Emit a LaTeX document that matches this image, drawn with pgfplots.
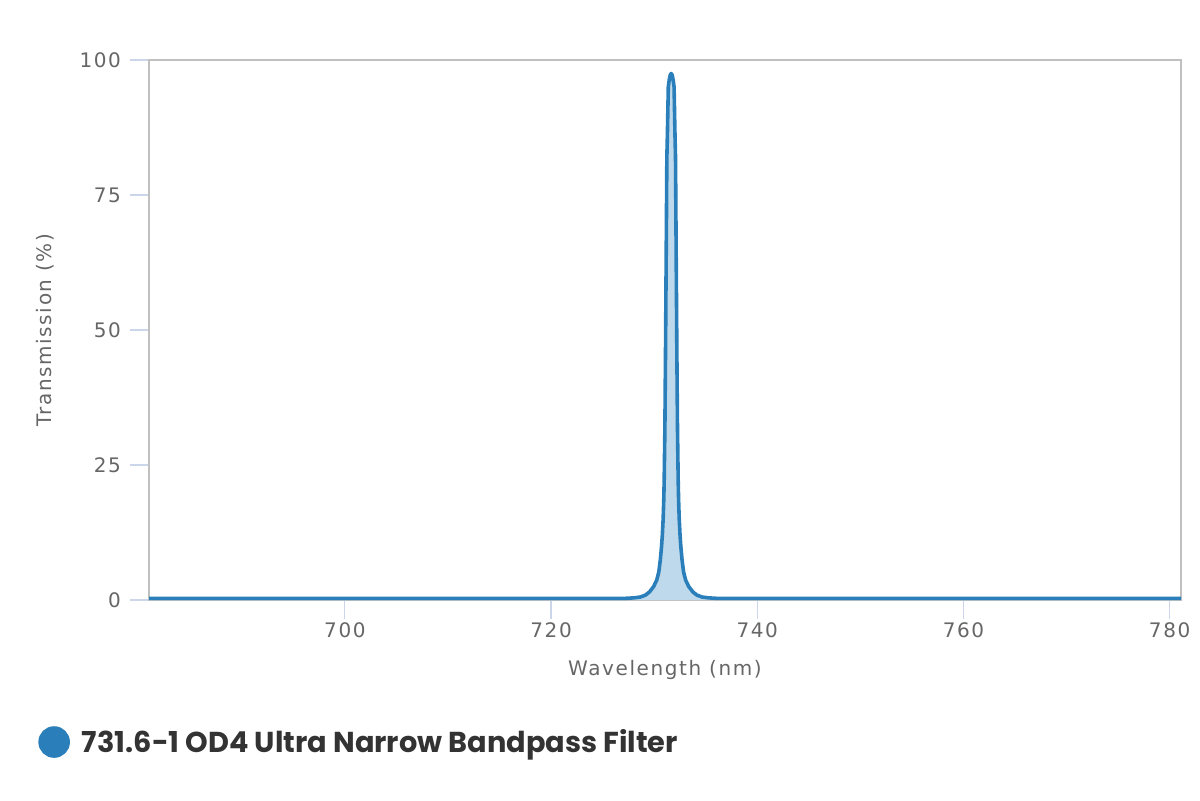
\documentclass[border=0pt]{standalone}
\usepackage{pgfplots}
\pgfplotsset{compat=1.18}
\usepackage{fontspec}
\setmainfont{DejaVu Sans}[LetterSpace=8]
\newfontfamily\legfont{Poppins}
\definecolor{hcblue}{HTML}{2A7FBA}
\definecolor{hcfill}{HTML}{BDD9EB}
\definecolor{tickc}{HTML}{CCD6EB}
\definecolor{boxc}{HTML}{C0C0C0}
\definecolor{labc}{HTML}{666666}
\definecolor{legc}{HTML}{333333}
\pgfplotstableread{
x y
681 0.3
700 0.3
720 0.3
727.15 0.3
728.05 0.4
728.65 0.55
729.15 0.9
729.55 1.5
729.95 2.5
730.25 3.7
730.45 5.2
730.6 7.5
730.71 9.8
730.79 12
730.87 15
730.93 18.5
730.97 22
731.04 32
731.1 46
731.17 65
731.23 82
731.28 86
731.37 95
731.45 96.2
731.55 97.2
731.65 97.5
731.75 97.2
731.85 96.2
731.93 95
732.02 86
732.07 82
732.13 65
732.2 46
732.26 32
732.33 22
732.37 18.5
732.43 15
732.51 12
732.59 9.8
732.7 7.5
732.85 5.2
733.05 3.7
733.35 2.5
733.75 1.5
734.15 0.9
734.65 0.55
735.25 0.4
736.15 0.3
760 0.3
781.1 0.3
}\spectrum
\begin{document}
\begin{tikzpicture}
\useasboundingbox (0,0) rectangle (600pt,400pt);
\begin{axis}[
  at={(74.5pt,100pt)}, anchor=south west,
  scale only axis, width=516pt, height=270pt,
  xmin=681, xmax=781.1, ymin=0, ymax=100,
  xtick={700,720,740,760,780},
  ytick={0,25,50,75,100},
  axis line style={boxc, line width=0.6pt},
  tick style={tickc, line width=0.6pt},
  xtick pos=bottom, ytick pos=left,
  tick align=outside,
  major tick length=9.5pt,
  ticklabel style={font=\fontsize{10}{12}\selectfont, text=labc},
  /pgf/number format/assume math mode=true,
  xticklabel style={yshift=1.5pt},
  yticklabel style={xshift=-1pt},
  xlabel={Wavelength (nm)}, ylabel={Transmission (\%)},
  label style={font=\fontsize{10}{12}\selectfont, text=labc},
  xlabel style={at={(axis description cs:0.5,-0.13)}, anchor=center},
  ylabel style={at={(axis description cs:-0.101,0.5)}, anchor=center},
  legend style={at={(axis description cs:-0.1076,-0.263)}, anchor=west, draw=none, fill=none,
    font=\legfont\bfseries\fontsize{14.4}{16}\selectfont, text=legc,
    inner sep=0pt, legend cell align=left},
  legend image code/.code={\fill[hcblue] (0pt,0pt) circle (7pt); \path (-7pt,0pt) (11pt,0pt);},
  clip=true,
]
\addplot[draw=none, fill=hcfill, forget plot] table[x=x,y=y]{\spectrum} \closedcycle;
\addplot[hcblue, line width=1.8pt, line join=round] table[x=x,y=y]{\spectrum};
\addlegendentry{731.6-1 OD4 Ultra Narrow Bandpass Filter}
\end{axis}
\end{tikzpicture}
\end{document}
